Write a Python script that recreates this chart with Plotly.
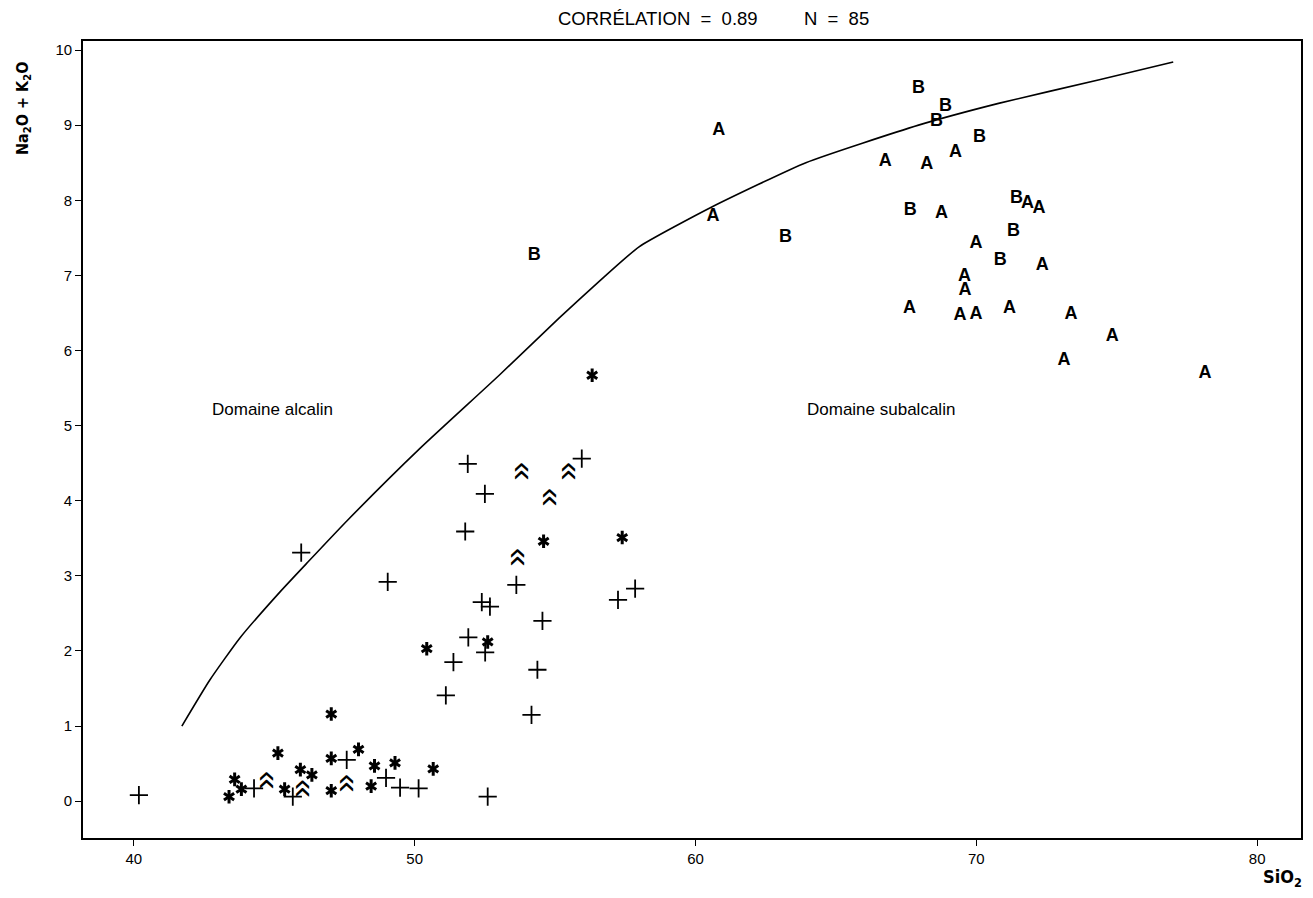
import plotly.graph_objects as go

# ---- data (SiO2, Na2O+K2O) ----
cross_x = [40.18, 44.28, 45.66, 47.58, 48.98, 49.48, 50.14, 52.60, 45.96, 49.04, 51.89, 55.95, 52.50,
           51.80, 53.62, 52.39, 52.68, 57.24, 57.85, 54.55, 51.91, 52.51, 51.38, 54.37, 51.11, 54.16]
cross_y = [0.08, 0.17, 0.06, 0.55, 0.31, 0.18, 0.17, 0.06, 3.31, 2.92, 4.49, 4.56, 4.09,
           3.59, 2.88, 2.65, 2.59, 2.68, 2.83, 2.40, 2.18, 1.98, 1.85, 1.75, 1.41, 1.15]

star_x = [47.03, 45.13, 47.03, 48.00, 48.57, 49.30, 50.66, 45.93, 46.34, 43.59, 43.83, 43.39, 45.37,
          47.03, 48.45, 54.59, 57.39, 52.60, 50.43, 56.32]
star_y = [1.16, 0.64, 0.57, 0.69, 0.47, 0.51, 0.43, 0.42, 0.35, 0.29, 0.16, 0.06, 0.16,
          0.14, 0.20, 3.46, 3.51, 2.12, 2.03, 5.67]

chev_x = [44.86, 46.11, 47.68, 53.92, 55.59, 54.93, 53.80]
chev_y = [0.28, 0.17, 0.24, 4.39, 4.39, 4.05, 3.25]

a_x = [60.83, 60.62, 66.76, 68.23, 69.26, 68.76, 71.82, 72.23, 69.99, 72.35, 69.58, 69.60, 67.62,
       69.42, 69.99, 71.18, 73.37, 74.84, 73.12, 78.14]
a_y = [8.93, 7.78, 8.51, 8.47, 8.64, 7.83, 7.96, 7.89, 7.43, 7.13, 6.98, 6.80, 6.56,
       6.46, 6.48, 6.56, 6.48, 6.18, 5.87, 5.69]

b_x = [54.26, 63.20, 67.94, 68.90, 68.58, 70.11, 67.65, 71.43, 71.32, 70.85]
b_y = [7.27, 7.51, 9.49, 9.25, 9.05, 8.83, 7.87, 8.02, 7.58, 7.20]

curve_x = [41.71, 42.70, 43.77, 45.19, 46.19, 47.61, 50.17, 53.01, 55.14, 56.57, 57.99, 60.58,
           63.93, 67.94, 70.79, 74.34, 77.01]
curve_y = [1.00, 1.61, 2.17, 2.78, 3.18, 3.74, 4.69, 5.67, 6.43, 6.92, 7.38, 7.91,
           8.50, 9.00, 9.29, 9.60, 9.84]

x_ticks = [40, 50, 60, 70, 80]
y_ticks = list(range(0, 11))

title_text = "CORRÉLATION  =  0.89         N  =  85"
x_title = "<b>SiO<sub>2</sub></b>"
y_title = "<b>Na<sub>2</sub>O + K<sub>2</sub>O</b>"
region_labels = [("Domaine alcalin", 44.92, 5.21), ("Domaine subalcalin", 66.59, 5.21)]

FONT = "Liberation Sans, Arial, sans-serif"
NARROW = "Liberation Sans Narrow, DejaVu Sans Condensed, Liberation Sans, sans-serif"

fig = go.Figure()

fig.add_trace(go.Scatter(x=curve_x, y=curve_y, mode="lines",
                         line=dict(color="black", width=1.6, shape="spline", smoothing=0.5),
                         hoverinfo="skip"))

fig.add_trace(go.Scatter(x=cross_x, y=cross_y, mode="markers",
                         marker=dict(symbol="cross-thin-open", size=13, color="black",
                                     line=dict(color="black", width=1.8))))

for sym in ["y-up-open", "y-down-open"]:
    fig.add_trace(go.Scatter(x=star_x, y=star_y, mode="markers",
                             marker=dict(symbol=sym, size=8.5, color="black",
                                         line=dict(color="black", width=3))))

fig.add_trace(go.Scatter(x=a_x, y=a_y, mode="text", text=["<b>A</b>"] * len(a_x),
                         textposition="middle center",
                         textfont=dict(family=FONT, size=18, color="black")))
fig.add_trace(go.Scatter(x=b_x, y=b_y, mode="text", text=["<b>B</b>"] * len(b_x),
                         textposition="middle center",
                         textfont=dict(family=FONT, size=18, color="black")))

annotations = []
# double chevrons: a rotated guillemet placed on the data coordinates
for cx, cy in zip(chev_x, chev_y):
    annotations.append(dict(x=cx, y=cy, xref="x", yref="y", text="«", showarrow=False,
                            textangle=90, xanchor="center", yanchor="middle",
                            font=dict(family=FONT, size=34, color="black")))
for txt, x, y in region_labels:
    annotations.append(dict(x=x, y=y, xref="x", yref="y", text=txt, showarrow=False,
                            font=dict(family=FONT, size=17, color="black")))
annotations.append(dict(x=0.518, y=1.0, xref="paper", yref="paper", yshift=23, text=title_text,
                        showarrow=False, xanchor="center", yanchor="middle",
                        font=dict(family=FONT, size=18.5, color="black")))
annotations.append(dict(x=1.0, y=0.0, xref="paper", yref="paper", yshift=-40, xshift=3,
                        text=x_title, showarrow=False, xanchor="right", yanchor="middle",
                        font=dict(family=NARROW, size=18, color="black")))
annotations.append(dict(x=0.0, y=1.0, xref="paper", yref="paper", xshift=-60, yshift=-18,
                        text=y_title, showarrow=False, textangle=-90, xanchor="center", yanchor="top",
                        font=dict(family=NARROW, size=16, color="black")))

# page body has an 8px margin: shrink the figure so the plot frame lands at the same pixels
fig.update_layout(
    width=1305, height=890,
    margin=dict(l=75, r=10, t=33, b=60),
    plot_bgcolor="white", paper_bgcolor="white",
    showlegend=False,
    annotations=annotations,
    font=dict(family=FONT, size=15, color="black"),
)
fig.update_xaxes(range=[38.19, 81.56], tickvals=x_ticks, ticks="outside", ticklen=6, tickwidth=1.3,
                 tickcolor="black", showline=True, mirror=True, linecolor="black", linewidth=1.6,
                 showgrid=False, zeroline=False, tickfont=dict(family=FONT, size=15))
fig.update_yaxes(range=[-0.49, 10.12], tickvals=y_ticks, ticks="outside", ticklen=6, tickwidth=1.3,
                 tickcolor="black", showline=True, mirror=True, linecolor="black", linewidth=1.6,
                 showgrid=False, zeroline=False, tickfont=dict(family=FONT, size=15))

fig.write_html("out.html")
